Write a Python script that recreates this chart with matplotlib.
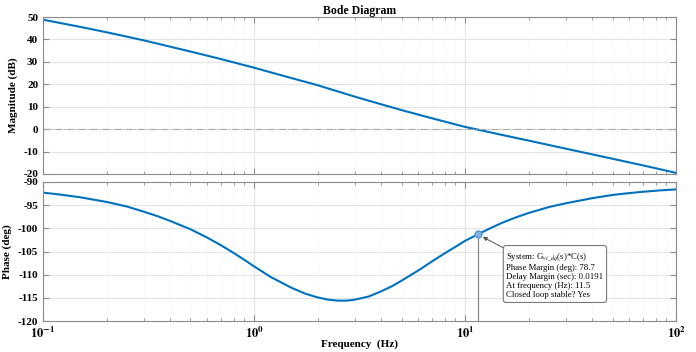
import numpy as np
import matplotlib
matplotlib.use("Agg")
import matplotlib.pyplot as plt
from matplotlib.ticker import LogLocator, FixedLocator, NullFormatter

# ── data ───────────────────────────────────────────────────────────────────────
mag_freq = [0.1, 0.15, 0.2, 0.3, 0.5, 0.7, 1, 1.5, 2, 3, 4, 5, 7, 10, 12, 15, 20,
            30, 50, 70, 100]
mag_db = [48.8, 45.6, 43.2, 39.6, 34.6, 31.2, 27.4, 22.8, 19.6, 14.5, 11.1, 8.5,
          4.8, 1.0, -0.6, -2.6, -5.1, -8.7, -13.2, -16.2, -19.5]

ph_freq = [0.1, 0.12, 0.15, 0.2, 0.25, 0.3, 0.35, 0.4, 0.5, 0.6, 0.7, 0.8, 0.9, 1,
           1.2, 1.5, 1.75, 2, 2.25, 2.5, 2.75, 3, 3.5, 4, 4.5, 5, 6, 7, 8, 9, 10,
           11.5, 13, 15, 17.5, 20, 25, 30, 40, 50, 60, 70, 85, 100]
ph_deg = [-92.3, -92.7, -93.3, -94.3, -95.3, -96.4, -97.4, -98.4, -100.2, -102.0,
          -103.7, -105.3, -106.8, -108.2, -110.5, -112.8, -114.1, -114.9, -115.4,
          -115.6, -115.6, -115.4, -114.7, -113.6, -112.5, -111.3, -109.1, -107.1,
          -105.4, -104.0, -102.7, -101.3, -100.1, -98.8, -97.6, -96.7, -95.4, -94.6,
          -93.5, -92.8, -92.4, -92.1, -91.8, -91.6]

pm_freq = 11.5
pm_phase = -101.3
info_lines = [
    r"System: G$_{vi\_dq}$(s)*C(s)",
    "Phase Margin (deg): 78.7",
    "Delay Margin (sec): 0.0191",
    "At frequency (Hz): 11.5",
    "Closed loop stable? Yes",
]

mag_ticks = [-20, -10, 0, 10, 20, 30, 40, 50]
ph_ticks = [-120, -115, -110, -105, -100, -95, -90]

# ── style ─────────────────────────────────────────────────────────────────────
plt.rcParams["font.family"] = ["Liberation Serif", "DejaVu Serif"]
plt.rcParams["mathtext.fontset"] = "stix"
LINE = "#0072BD"
SPINE = "#8c8c8c"
GRID = "#e4e4e4"

fig = plt.figure(figsize=(6.96, 3.52), dpi=100)
ax1 = fig.add_axes([0.0618, 0.5057, 0.9095, 0.446])
ax2 = fig.add_axes([0.0618, 0.088, 0.9095, 0.395])

for ax in (ax1, ax2):
    ax.set_xscale("log")
    ax.set_xlim(0.1, 100)
    ax.xaxis.set_major_locator(LogLocator(base=10, numticks=10))
    ax.xaxis.set_minor_locator(LogLocator(base=10, subs=np.arange(2, 10), numticks=10))
    ax.xaxis.set_minor_formatter(NullFormatter())
    ax.grid(True, which="major", color=GRID, lw=0.8)
    ax.grid(True, which="minor", axis="x", color="#ececec", lw=0.6, ls=":")
    ax.tick_params(which="both", direction="in", top=True, right=True,
                   color=SPINE, labelsize=8)
    ax.tick_params(which="major", length=4)
    ax.tick_params(which="minor", length=2.5)
    for s in ax.spines.values():
        s.set_color(SPINE)
    ax.set_axisbelow(True)

# magnitude
ax1.plot(mag_freq, mag_db, color=LINE, lw=1.5)
ax1.axhline(0, color="#a8a8a8", lw=0.8, ls="-.")
ax1.set_ylim(-20, 50)
ax1.yaxis.set_major_locator(FixedLocator(mag_ticks))
ax1.set_yticklabels([str(t) for t in mag_ticks], fontweight="bold", fontsize=8)
ax1.tick_params(labelbottom=False)
ax1.set_ylabel("Magnitude (dB)", fontweight="bold", fontsize=8)
ax1.set_title("Bode Diagram", fontweight="bold", fontsize=8.5, pad=2)

# phase
ax2.plot(ph_freq, ph_deg, color=LINE, lw=1.5)
ax2.set_ylim(-120, -90)
ax2.yaxis.set_major_locator(FixedLocator(ph_ticks))
ax2.set_yticklabels([str(t) for t in ph_ticks], fontweight="bold", fontsize=8)
ax2.set_xticks([0.1, 1, 10, 100])
ax2.set_xticklabels([r"$\mathbf{10^{-1}}$", r"$\mathbf{10^{0}}$",
                     r"$\mathbf{10^{1}}$", r"$\mathbf{10^{2}}$"], fontsize=9)
ax2.set_ylabel("Phase (deg)", fontweight="bold", fontsize=8)
ax2.set_xlabel("Frequency  (Hz)", fontweight="bold", fontsize=8, labelpad=-1)

ax2.vlines(pm_freq, -120, pm_phase, color="#8a8a8a", lw=0.9)
ax2.plot(pm_freq, pm_phase, "o", ms=5, color="#80b6e0", mec="#5a9bd0", zorder=5)
ax2.annotate("\n".join(info_lines), xy=(pm_freq, pm_phase),
             xytext=(0.732, 0.505), textcoords="axes fraction",
             ha="left", va="top", fontsize=6.3, linespacing=1.2,
             bbox=dict(boxstyle="round,pad=0.35,rounding_size=0.3", fc="white",
                       ec="#7a7a7a", lw=0.8),
             arrowprops=dict(arrowstyle="-|>", color="#555555", lw=0.7,
                             mutation_scale=6, shrinkA=0, shrinkB=4))

fig.savefig("out.png", dpi=100)
